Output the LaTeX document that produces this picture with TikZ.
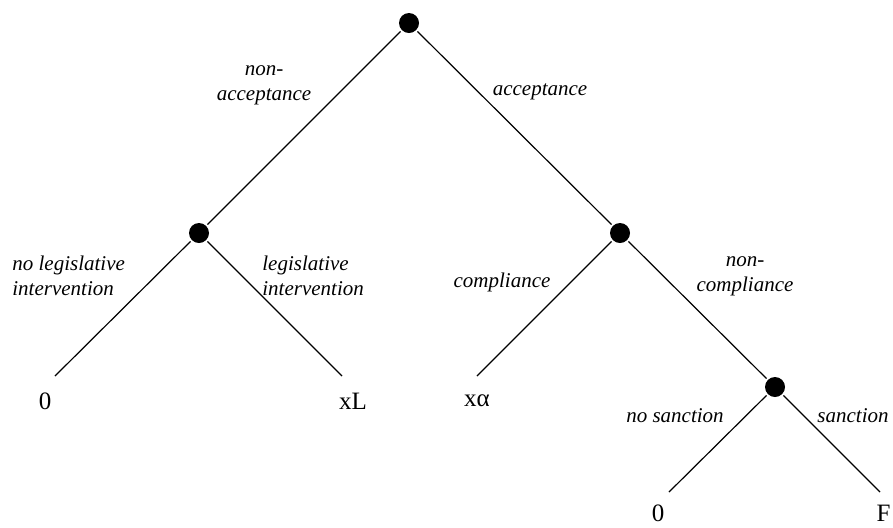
\documentclass[tikz,border=0pt]{standalone}
\usepackage{fontspec}
\setmainfont{Liberation Serif}
\tikzset{
  dot/.style={circle,fill=black,draw=none,inner sep=0pt,minimum size=10pt,outer sep=1pt},
  edge/.style={line width=0.6pt,black},
  lab/.style={font=\fontsize{10.5}{12.6}\selectfont\itshape,inner sep=0pt},
  leaf/.style={font=\fontsize{12.5}{15}\selectfont,inner sep=0pt}
}
\begin{document}
\begin{tikzpicture}[x=0.5pt,y=-0.5pt]
\useasboundingbox (0,0) rectangle (893,527);
% decision nodes
\node[dot] (root) at (409,23) {};
\node[dot] (L) at (199,233) {};
\node[dot] (R) at (620,233) {};
\node[dot] (RR) at (775,387) {};
% free ends
\coordinate (e1) at (55,376);
\coordinate (e2) at (342,376);
\coordinate (e3) at (477,376);
\coordinate (e4) at (669,492);
\coordinate (e5) at (880,492);
% connectors
\draw[edge] (root) -- (L);
\draw[edge] (root) -- (R);
\draw[edge] (L) -- (e1);
\draw[edge] (L) -- (e2);
\draw[edge] (R) -- (e3);
\draw[edge] (R) -- (RR);
\draw[edge] (RR) -- (e4);
\draw[edge] (RR) -- (e5);
% edge labels
\node[lab,align=center] (t1) at (264,85) {non-\\acceptance};
\node[lab] (t2) at (540,92) {acceptance};
\node[lab,align=left,anchor=west] (t3) at (12,276) {no legislative\\intervention};
\node[lab,align=left,anchor=west] (t4) at (262,276) {legislative\\intervention};
\node[lab] (t5) at (502,282) {compliance};
\node[lab,align=center] (t6) at (745,276) {non-\\compliance};
\node[lab] (t7) at (675,416) {no sanction};
\node[lab] (t8) at (853,416) {sanction};
% payoffs
\node[leaf] (p1) at (45,401) {0};
\node[leaf] (p2) at (353,401) {xL};
\node[leaf] (p3) at (477,401) {xα};
\node[leaf] (p4) at (658,513) {0};
\node[leaf,anchor=east] (p5) at (891,513) {F};
\end{tikzpicture}
\end{document}
